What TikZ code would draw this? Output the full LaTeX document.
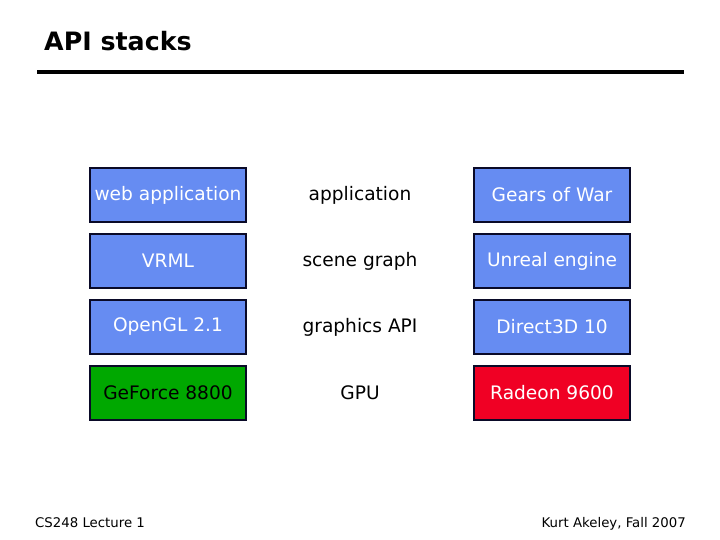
\documentclass[tikz,border=0pt]{standalone}
\usepackage{fontspec}
\setmainfont{DejaVu Sans}
\definecolor{boxblue}{RGB}{102,140,242}
\definecolor{boxgreen}{RGB}{0,168,0}
\definecolor{boxred}{RGB}{240,0,36}
\definecolor{boxedge}{RGB}{10,10,40}
\tikzset{
  stackbox/.style={draw=boxedge, line width=2pt, minimum width=156pt, minimum height=54pt, inner sep=0pt, font=\fontsize{18.6}{22}\selectfont},
  bluebox/.style={stackbox, fill=boxblue, text=white},
  greenbox/.style={stackbox, fill=boxgreen, text=black},
  redbox/.style={stackbox, fill=boxred, text=white},
  midtext/.style={font=\fontsize{18.6}{22}\selectfont, inner sep=0pt},
}
\begin{document}
\begin{tikzpicture}[x=1pt,y=-1pt]
\useasboundingbox (0,0) rectangle (720,540);
\node[anchor=base west, font=\bfseries\fontsize{25.3}{30}\selectfont, inner sep=0pt] (title) at (44,51) {API stacks};
\draw[line width=4pt] (37,72) -- (684,72);
% left column
\node[bluebox] (l1) at (168,195) {web application};
\node[bluebox] (l2) at (168,261) {VRML};
\node[bluebox] (l3) at (168,327) {OpenGL 2.1};
\node[greenbox] (l4) at (168,393) {GeForce 8800};
% middle column
\node[midtext] (m1) at (360,195) {application};
\node[midtext] (m2) at (360,261) {scene graph};
\node[midtext] (m3) at (360,327) {graphics API};
\node[midtext] (m4) at (360,393) {GPU};
% right column
\node[bluebox] (r1) at (552,195) {Gears of War};
\node[bluebox] (r2) at (552,261) {Unreal engine};
\node[bluebox] (r3) at (552,327) {Direct3D 10};
\node[redbox] (r4) at (552,393) {Radeon 9600};
% footer
\node[anchor=base west, font=\fontsize{13.3}{16}\selectfont, inner sep=0pt] (f1) at (35,527) {CS248 Lecture 1};
\node[anchor=base east, font=\fontsize{13.3}{16}\selectfont, inner sep=0pt] (f2) at (686,527) {Kurt Akeley, Fall 2007};
\end{tikzpicture}
\end{document}
